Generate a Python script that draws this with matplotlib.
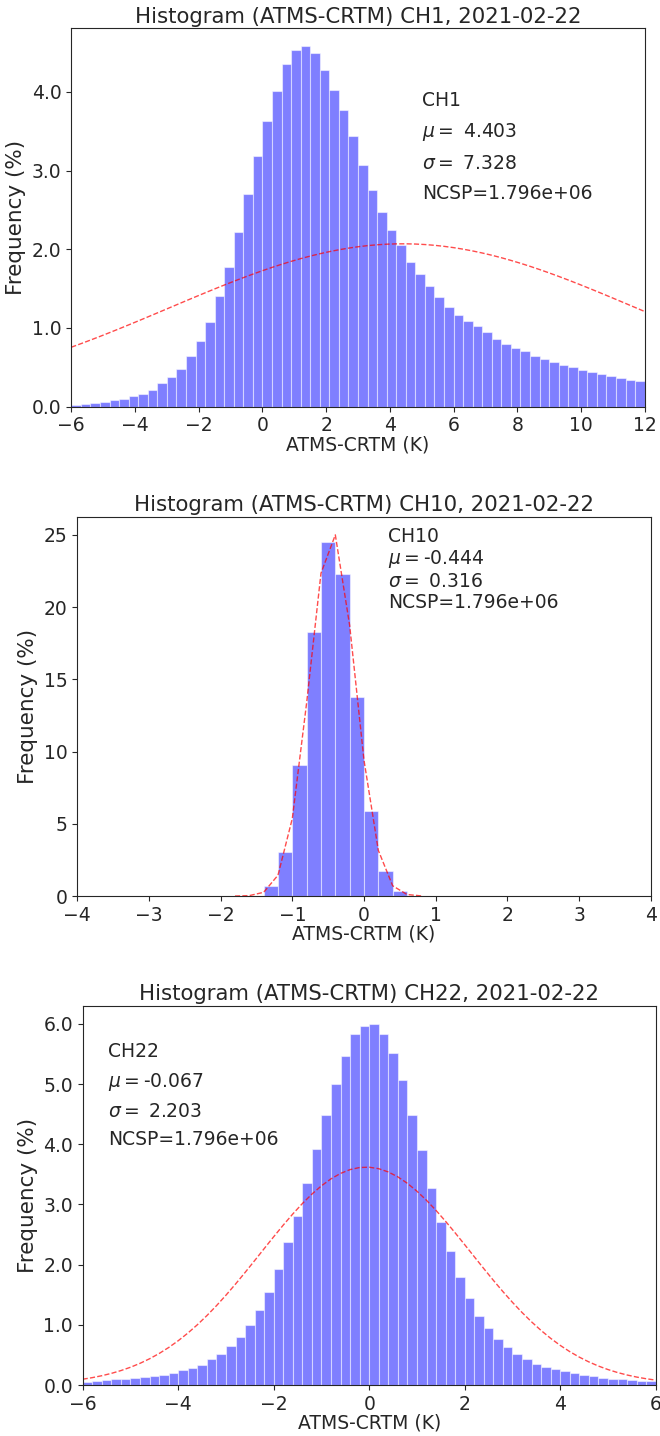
import numpy as np
import matplotlib
matplotlib.use("Agg")
import matplotlib.pyplot as plt
import seaborn as sns
from matplotlib.ticker import FormatStrFormatter

sns.set_style("ticks")
plt.rcParams["font.family"] = ["DejaVu Sans"]

date = "2021-02-22"

# CH1: 60 bins of 0.3 K from -6 to 12
ch1_edges = np.round(np.arange(-6.0, 12.0001, 0.3), 2)
ch1_freq = [0.025, 0.034, 0.047, 0.06, 0.08, 0.10, 0.13, 0.16, 0.21, 0.30,
            0.38, 0.48, 0.64, 0.83, 1.08, 1.41, 1.78, 2.22, 2.70, 3.18,
            3.63, 4.01, 4.35, 4.53, 4.58, 4.50, 4.28, 4.02, 3.77, 3.44,
            3.07, 2.75, 2.47, 2.25, 2.05, 1.84, 1.69, 1.53, 1.40, 1.27,
            1.17, 1.09, 1.03, 0.95, 0.86, 0.80, 0.75, 0.71, 0.65, 0.61,
            0.57, 0.53, 0.50, 0.47, 0.44, 0.42, 0.39, 0.36, 0.34, 0.33]

# CH10: bins of 0.2 K from -4 to 4, only -1.4..0.6 non-empty
ch10_edges = np.round(np.arange(-4.0, 4.0001, 0.2), 2)
ch10_nonzero_start = -1.4
ch10_nonzero = [0.67, 3.04, 9.08, 18.25, 24.54, 22.30, 13.80, 5.90, 1.73, 0.37]

# CH22: 60 bins of 0.2 K from -6 to 6
ch22_edges = np.round(np.arange(-6.0, 6.0001, 0.2), 2)
ch22_freq = [0.055, 0.066, 0.083, 0.094, 0.10, 0.11, 0.13, 0.15, 0.17, 0.20,
             0.25, 0.29, 0.34, 0.43, 0.52, 0.65, 0.79, 1.00, 1.25, 1.55,
             1.92, 2.37, 2.81, 3.36, 3.92, 4.49, 5.00, 5.47, 5.83, 5.96,
             6.00, 5.83, 5.51, 5.06, 4.48, 3.90, 3.27, 2.70, 2.23, 1.80,
             1.45, 1.14, 0.95, 0.77, 0.63, 0.52, 0.43, 0.35, 0.30, 0.27,
             0.23, 0.20, 0.17, 0.15, 0.12, 0.105, 0.094, 0.078, 0.072, 0.066]

channels = ["CH1", "CH10", "CH22"]
mus = [4.403, -0.444, -0.067]
sigmas = [7.328, 0.316, 2.203]
curve_peaks = [2.07, 25.25, 3.62]   # peak of the fitted normal curve (%)
ncsp = 1.796e06

ch10_freq = np.zeros(len(ch10_edges) - 1)
i0 = int(round((ch10_nonzero_start + 4.0) / 0.2))
ch10_freq[i0:i0 + len(ch10_nonzero)] = ch10_nonzero

edges_all = [ch1_edges, ch10_edges, ch22_edges]
freq_all = [np.array(ch1_freq), ch10_freq, np.array(ch22_freq)]
xlims = [(-6, 12), (-4, 4), (-6, 6)]
xticks = [np.arange(-6, 13, 2), np.arange(-4, 5, 1), np.arange(-6, 7, 2)]
yfmt = ["%.1f", "%d", "%.1f"]

# axes boxes in figure fraction [left, bottom, width, height]
boxes = [[0.108, 0.7168, 0.8688, 0.2635],
         [0.1171, 0.3760, 0.8688, 0.2641],
         [0.1253, 0.0355, 0.8682, 0.2641]]
text_pos = [(0.612, 0.835, 1.72), (0.542, 0.972, 1.12), (0.044, 0.905, 1.62)]

fig = plt.figure(figsize=(6.6, 14.36), dpi=100)

for k in range(3):
    ax = fig.add_axes(boxes[k])
    edges = edges_all[k]
    freq = freq_all[k]
    width = edges[1] - edges[0]
    ax.bar(edges[:-1], freq, width=width, align="edge", color="blue",
           alpha=0.5, edgecolor="white", linewidth=0.8)
    gauss = curve_peaks[k] * np.exp(-(edges - mus[k]) ** 2 / (2 * sigmas[k] ** 2))
    gauss = np.where(gauss < 1e-3, np.nan, gauss)
    ax.plot(edges, gauss, "r--", linewidth=1.0, alpha=0.7)

    ax.set_xlim(*xlims[k])
    ax.set_xticks(xticks[k])
    ax.set_ylim(0, max(np.nanmax(gauss), freq.max()) * 1.05)
    ax.yaxis.set_major_formatter(FormatStrFormatter(yfmt[k]))
    ax.tick_params(labelsize=13.5)
    ax.set_title(f"Histogram (ATMS-CRTM) {channels[k]}, {date}", fontsize=15.3, pad=4)
    ax.set_xlabel("ATMS-CRTM (K)", fontsize=13.5, labelpad=0)
    ax.set_ylabel("Frequency (%)", fontsize=15.5)

    tx, ty, ls = text_pos[k]
    label = (f"{channels[k]}\n$\\mu=${mus[k]:6.3f}\n$\\sigma=${sigmas[k]:6.3f}\n"
             f"NCSP={ncsp:.3e}")
    ax.text(tx, ty, label, transform=ax.transAxes, fontsize=13.5, va="top",
            ha="left", linespacing=ls)

fig.savefig("out.png", dpi=100)
